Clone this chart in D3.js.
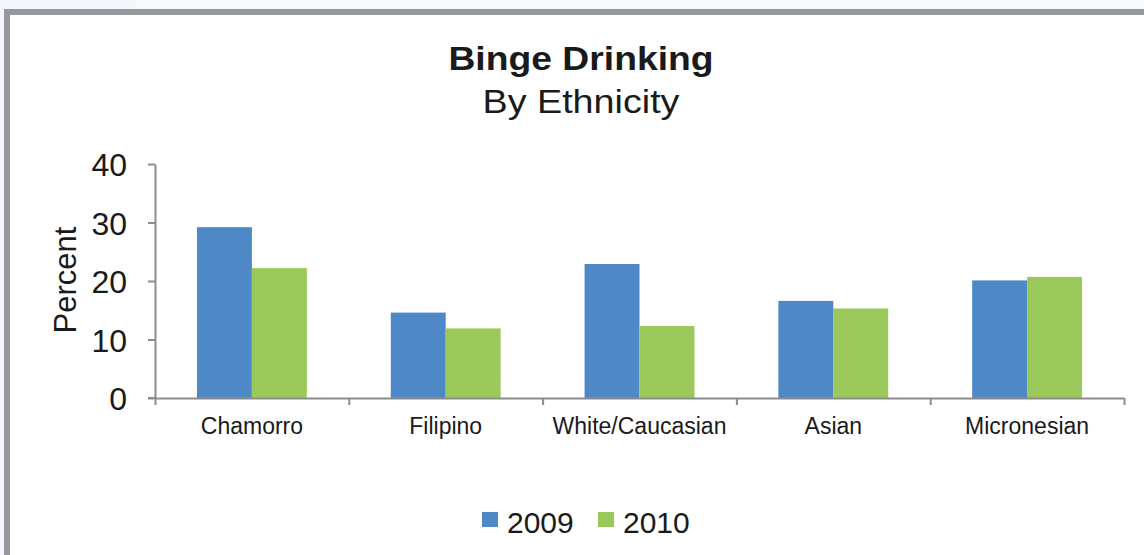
<!DOCTYPE html>
<html>
<head>
<meta charset="utf-8">
<script src="https://cdn.jsdelivr.net/npm/d3@7"></script>
<style>
  html, body { margin: 0; padding: 0; background: #ffffff; }
  svg { display: block; }
  text { font-family: "Liberation Sans", Arial, sans-serif; fill: #1a1a1a; }
</style>
</head>
<body>
<svg id="chart" width="1144" height="555"></svg>
<script>
const categories = ["Chamorro", "Filipino", "White/Caucasian", "Asian", "Micronesian"];
const seriesNames = ["2009", "2010"];
const values2009 = [29.2, 14.6, 22.9, 16.6, 20.1];
const values2010 = [22.2, 11.9, 12.3, 15.3, 20.7];
const yTicks = [0, 10, 20, 30, 40];
const titleText = "Binge Drinking";
const subtitleText = "By Ethnicity";
const yLabel = "Percent";
const colors = ["#4f88c6", "#9bc85a"];

const seriesValues = [values2009, values2010];
const W = 1144, H = 555;
const svg = d3.select("#chart");

// page background / frame
svg.append("rect").attr("x", 0).attr("y", 0).attr("width", W).attr("height", H).attr("fill", "#ffffff");
svg.append("rect").attr("x", 0).attr("y", 0).attr("width", 135).attr("height", 10).attr("fill", "#f3f6fc");
svg.append("rect").attr("x", 135).attr("y", 0).attr("width", W - 135).attr("height", 10).attr("fill", "#f7f9fc");
svg.append("rect").attr("x", 0).attr("y", 0).attr("width", 4).attr("height", H).attr("fill", "#f3f6fc");
svg.append("rect").attr("x", 7).attr("y", 12).attr("width", W + 20).attr("height", H + 20)
  .attr("fill", "#ffffff").attr("stroke", "#96979a").attr("stroke-width", 6);

const plotLeft = 155, plotRight = 1124, plotTop = 164, plotBottom = 398;

const x0 = d3.scaleBand().domain(categories).range([plotLeft, plotRight]).paddingInner(0).paddingOuter(0);
const x1 = d3.scaleBand().domain(seriesNames).range([0, x0.bandwidth()]).paddingInner(0).paddingOuter(0.764);
const y = d3.scaleLinear().domain([0, 40]).range([plotBottom, plotTop]);

// title (source text is slightly stretched horizontally)
svg.append("text").attr("transform", "translate(581,70) scale(1.13,1)").attr("text-anchor", "middle")
  .attr("font-size", 33).attr("font-weight", "bold").text(titleText);
svg.append("text").attr("transform", "translate(581,113) scale(1.16,1)").attr("text-anchor", "middle")
  .attr("font-size", 32.5).text(subtitleText);

// bars
const groups = svg.append("g").selectAll("g").data(categories).join("g")
  .attr("transform", d => `translate(${x0(d)},0)`);
groups.selectAll("rect")
  .data((d, i) => seriesNames.map((s, j) => ({ s, v: seriesValues[j][i], j })))
  .join("rect")
  .attr("x", d => x1(d.s))
  .attr("width", x1.bandwidth())
  .attr("y", d => y(d.v))
  .attr("height", d => plotBottom - y(d.v))
  .attr("fill", d => colors[d.j]);

const axisColor = "#8c8c8c";

// y axis
const yAxis = svg.append("g").attr("transform", `translate(${plotLeft},0)`)
  .call(d3.axisLeft(y).tickValues(yTicks).tickSize(7).tickSizeOuter(0).tickPadding(21));
yAxis.select(".domain").attr("stroke", axisColor).attr("stroke-width", 2);
yAxis.selectAll(".tick line").attr("stroke", axisColor).attr("stroke-width", 2);
yAxis.selectAll(".tick text").attr("font-size", 32).attr("fill", "#1a1a1a")
  .attr("font-family", "Liberation Sans, Arial, sans-serif").attr("dy", "0.37em");

// x axis: boundary ticks
const xb = d3.scaleLinear().domain([0, categories.length]).range([plotLeft, plotRight]);
const xAxis = svg.append("g").attr("transform", `translate(0,${plotBottom})`)
  .call(d3.axisBottom(xb).tickValues(d3.range(categories.length + 1)).tickSize(7).tickSizeOuter(0).tickFormat(""));
xAxis.select(".domain").attr("stroke", axisColor).attr("stroke-width", 2);
xAxis.selectAll(".tick line").attr("stroke", axisColor).attr("stroke-width", 2);
svg.append("line").attr("x1", plotLeft - 7).attr("x2", plotLeft).attr("y1", plotBottom).attr("y2", plotBottom)
  .attr("stroke", axisColor).attr("stroke-width", 2);

// category labels
const xLab = svg.append("g").attr("transform", `translate(0,${plotBottom})`)
  .call(d3.axisBottom(x0).tickSize(0).tickPadding(20));
xLab.select(".domain").remove();
xLab.selectAll(".tick text").attr("font-size", 23).attr("fill", "#1a1a1a")
  .attr("font-family", "Liberation Sans, Arial, sans-serif");

// y label
svg.append("text").attr("transform", "translate(76,280) rotate(-90)").attr("text-anchor", "middle")
  .attr("font-size", 31).text(yLabel);

// legend
const legendItems = [{ name: seriesNames[0], x: 482 }, { name: seriesNames[1], x: 598 }];
const leg = svg.append("g").selectAll("g").data(legendItems).join("g")
  .attr("transform", d => `translate(${d.x},512)`);
leg.append("rect").attr("width", 16).attr("height", 15).attr("fill", (d, i) => colors[i]);
leg.append("text").attr("x", 25).attr("y", 21).attr("font-size", 30).text(d => d.name);
</script>
</body>
</html>
